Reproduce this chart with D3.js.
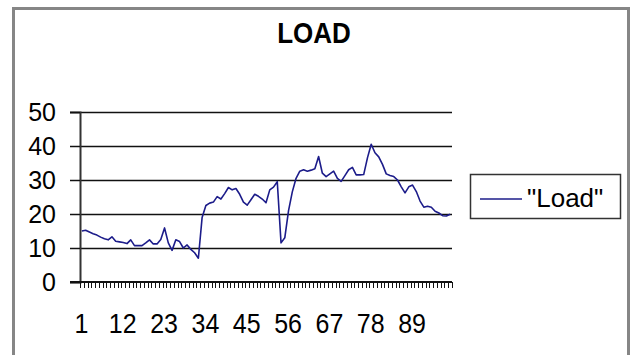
<!DOCTYPE html>
<html>
<head>
<meta charset="utf-8">
<script src="https://cdn.jsdelivr.net/npm/d3@7"></script>
<style>
  html, body { margin: 0; padding: 0; background: #fff; }
  svg { display: block; font-family: Arial, "Liberation Sans", sans-serif; }
</style>
</head>
<body>
<svg id="chart" width="631" height="355"></svg>
<script>
// Hourly load readings, one per category
const loadValues = [
  15.0, 15.2, 14.7, 14.2, 13.8, 13.2, 12.7, 12.4, 13.3, 12.0,
  11.8, 11.6, 11.3, 12.4, 10.7, 10.7, 10.7, 11.5, 12.4, 11.2,
  11.2, 12.5, 15.9, 11.5, 9.3, 12.4, 11.9, 10.0, 10.9, 9.6,
  8.6, 7.0, 19.0, 22.5, 23.2, 23.5, 25.1, 24.4, 26.0, 27.8,
  27.1, 27.5, 25.8, 23.5, 22.6, 24.2, 25.8, 25.2, 24.4, 23.3,
  27.1, 27.9, 29.5, 11.5, 13.0, 21.0, 26.5, 30.5, 32.6, 33.0,
  32.6, 32.9, 33.3, 36.9, 32.0, 31.0, 31.8, 32.6, 30.5, 29.6,
  31.3, 33.0, 33.7, 31.5, 31.5, 31.6, 36.5, 40.5, 38.0, 36.8,
  34.6, 31.8, 31.3, 31.0, 30.0, 28.0, 26.2, 28.0, 28.5, 26.6,
  23.8, 22.0, 22.3, 22.0, 20.8, 20.3, 19.5, 19.4, 19.9
];
const categories = loadValues.map((_, i) => i + 1);
const xTickLabels = [1, 12, 23, 34, 45, 56, 67, 78, 89];
const yTickValues = [0, 10, 20, 30, 40, 50];
const seriesName = '"Load"';
const chartTitle = "LOAD";

const svg = d3.select("#chart");

// outer chart-area frame
svg.append("rect")
  .attr("x", 13.5).attr("y", 8.5)
  .attr("width", 615).attr("height", 360)
  .attr("fill", "#fff").attr("stroke", "#868686").attr("stroke-width", 3);

const plot = { left: 80, right: 452, top: 112, bottom: 282 };

const x = d3.scaleBand().domain(categories).range([plot.left, plot.right]).paddingInner(0).paddingOuter(0);
const y = d3.scaleLinear().domain([0, 50]).range([plot.bottom, plot.top]);

// horizontal gridlines
svg.append("g")
  .selectAll("line")
  .data(yTickValues.filter(v => v > 0))
  .join("line")
  .attr("x1", plot.left).attr("x2", plot.right)
  .attr("y1", d => Math.round(y(d)) + 0.5).attr("y2", d => Math.round(y(d)) + 0.5)
  .attr("stroke", "#111").attr("stroke-width", 1.5);

// y axis
const yAxis = svg.append("g")
  .attr("transform", `translate(${plot.left},0)`)
  .call(d3.axisLeft(y).tickValues(yTickValues).tickSize(10).tickPadding(14).tickFormat(d3.format("d")));
yAxis.select(".domain").attr("stroke", "#333").attr("stroke-width", 2);
yAxis.selectAll(".tick line").attr("stroke", "#111").attr("stroke-width", 1.5);
yAxis.selectAll(".tick text")
  .attr("font-size", 25).attr("fill", "#000")
  .attr("font-family", "Arial, 'Liberation Sans', sans-serif");

// x axis: tick marks on category boundaries, labels every 11th category
const boundaries = d3.range(categories.length + 1).map(i => plot.left + i * x.bandwidth());
const xAxis = svg.append("g");
xAxis.append("line")
  .attr("x1", plot.left - 10).attr("x2", plot.right)
  .attr("y1", plot.bottom).attr("y2", plot.bottom)
  .attr("stroke", "#111").attr("stroke-width", 2);
xAxis.selectAll("line.tk")
  .data(boundaries)
  .join("line").attr("class", "tk")
  .attr("x1", d => Math.round(d) + 0.5).attr("x2", d => Math.round(d) + 0.5)
  .attr("y1", plot.bottom).attr("y2", plot.bottom + 6)
  .attr("stroke", "#111").attr("stroke-width", 1);
xAxis.selectAll("text")
  .data(xTickLabels)
  .join("text")
  .attr("transform", d => `translate(${x(d) + x.bandwidth() / 2 - 0.5},333) scale(1,1.12)`)
  .attr("text-anchor", "middle")
  .attr("font-size", 25).attr("fill", "#000")
  .text(d => d);

// load line
const line = d3.line()
  .x((d, i) => x(categories[i]) + x.bandwidth() / 2)
  .y(d => y(d));
svg.append("path")
  .datum(loadValues)
  .attr("d", line)
  .attr("fill", "none")
  .attr("stroke", "#1c1c8a")
  .attr("stroke-width", 1.6)
  .attr("stroke-linejoin", "round");

// title
svg.append("text")
  .attr("transform", "translate(314,43) scale(1,1.17)")
  .attr("text-anchor", "middle")
  .attr("font-size", 26).attr("font-weight", "bold").attr("fill", "#000")
  .text(chartTitle);

// legend
const legend = svg.append("g");
legend.append("rect")
  .attr("x", 470.5).attr("y", 174.5).attr("width", 150).attr("height", 44)
  .attr("fill", "#fff").attr("stroke", "#333").attr("stroke-width", 1.5);
legend.append("line")
  .attr("x1", 480).attr("x2", 522).attr("y1", 199).attr("y2", 199)
  .attr("stroke", "#1c1c8a").attr("stroke-width", 1.5);
legend.append("text")
  .attr("x", 527).attr("y", 207)
  .attr("font-size", 26).attr("fill", "#000")
  .text(seriesName);
</script>
</body>
</html>
